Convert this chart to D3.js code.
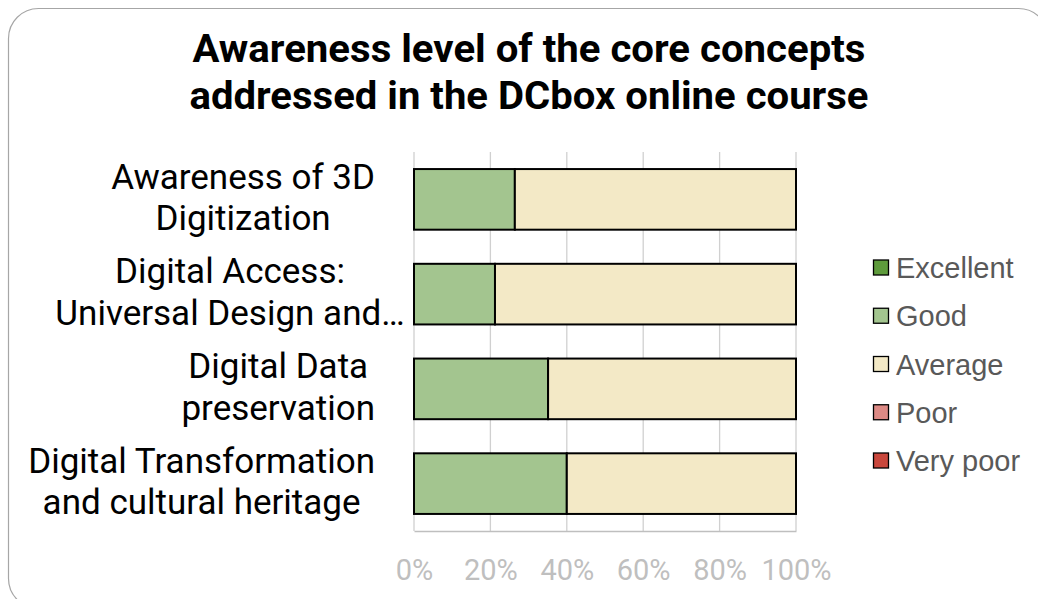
<!DOCTYPE html>
<html>
<head>
<meta charset="utf-8">
<script src="https://cdn.jsdelivr.net/npm/d3@7"></script>
<style>
  html, body { margin: 0; padding: 0; background: #fff; }
  svg { display: block; }
</style>
</head>
<body>
<svg id="chart" width="1038" height="599"></svg>
<script>
// Survey topics (each label split into its wrapped lines)
const categories = [
  ["Awareness of 3D", "Digitization"],
  ["Digital Access:", "Universal Design and…"],
  ["Digital Data", "preservation"],
  ["Digital Transformation", "and cultural heritage"]
];
// Rating levels and share of answers (%) for each topic
const levels = ["Excellent", "Good", "Average", "Poor", "Very poor"];
const levelColors = ["#5e9b3c", "#a3c58f", "#f3e9c6", "#dd8a85", "#c9473c"];
const excellent = [0, 0, 0, 0];
const good      = [26.4, 21.2, 35.1, 40.0];
const average   = [73.6, 78.8, 64.9, 60.0];
const poor      = [0, 0, 0, 0];
const veryPoor  = [0, 0, 0, 0];
const tickValues = [0, 20, 40, 60, 80, 100];

const svg = d3.select("#chart");
const font = "Roboto, 'Liberation Sans', sans-serif";
const legendFont = "'Liberation Sans', Arial, sans-serif";

// Chart frame
svg.append("rect")
  .attr("x", 8.5).attr("y", 8.5)
  .attr("width", 1040).attr("height", 600)
  .attr("rx", 30).attr("ry", 30)
  .attr("fill", "#fff").attr("stroke", "#a6a6a6").attr("stroke-width", 1.2);

// Title
const titleLines = [
  { t: "Awareness level of the core concepts", y: 62, w: 673 },
  { t: "addressed in the DCbox online course", y: 109, w: 679 }
];
svg.selectAll("text.title").data(titleLines).join("text")
  .attr("class", "title")
  .attr("x", 529).attr("y", d => d.y)
  .attr("text-anchor", "middle")
  .attr("font-family", font).attr("font-weight", "bold")
  .attr("font-size", 38.5)
  .attr("textLength", d => d.w).attr("lengthAdjust", "spacingAndGlyphs")
  .attr("fill", "#000")
  .text(d => d.t);

// Plot area
const plot = { left: 414, right: 796, top: 152, bottom: 531 };
const x = d3.scaleLinear().domain([0, 100]).range([plot.left, plot.right]);
const y = d3.scaleBand().domain(d3.range(categories.length))
  .range([plot.top, plot.bottom]).paddingInner(0.36).paddingOuter(0.18);

// Vertical gridlines
svg.append("g").selectAll("line").data(tickValues).join("line")
  .attr("x1", d => x(d)).attr("x2", d => x(d))
  .attr("y1", plot.top).attr("y2", plot.bottom)
  .attr("stroke", "#d0d0d0").attr("stroke-width", 1.3);

// X axis
const xAxis = svg.append("g")
  .attr("transform", `translate(0,${plot.bottom})`)
  .call(d3.axisBottom(x).tickValues(tickValues).tickFormat(d => d + "%").tickSize(0).tickPadding(28));
xAxis.select(".domain").attr("stroke", "#bfbfbf").attr("stroke-width", 1.3);
xAxis.selectAll("text")
  .attr("font-family", font).attr("font-size", 29).attr("fill", "#bfbfbf");

// Stacked bars
const seriesValues = [excellent, good, average, poor, veryPoor];
const rows = categories.map((c, i) => {
  const r = { i };
  levels.forEach((l, k) => r[l] = seriesValues[k][i]);
  return r;
});
const stacked = d3.stack().keys(["Good", "Average", "Excellent", "Poor", "Very poor"])(rows);
svg.append("g").selectAll("g").data(stacked).join("g")
  .attr("fill", s => levelColors[levels.indexOf(s.key)])
  .selectAll("rect").data(s => s.filter(d => d[1] - d[0] > 0)).join("rect")
  .attr("x", d => x(d[0]))
  .attr("width", d => x(d[1]) - x(d[0]))
  .attr("y", d => y(d.data.i))
  .attr("height", y.bandwidth())
  .attr("stroke", "#000").attr("stroke-width", 2);

// Category labels: lines centred within a right-aligned box;
// a truncated line only counts up to the box's width limit
const labelRight = 375;
const labelMaxWidth = 290;
categories.forEach((lines, i) => {
  const g = svg.append("g");
  const texts = g.selectAll("text").data(lines).join("text")
    .attr("font-family", font).attr("font-size", 35).attr("fill", "#000")
    .attr("text-anchor", "middle")
    .text(d => d);
  const widths = texts.nodes().map((n, k) => {
    const w = n.getComputedTextLength();
    return lines[k].endsWith("…") ? Math.min(w, labelMaxWidth) : w;
  });
  const cx = labelRight - d3.max(widths) / 2;
  const cy = y(i) + y.bandwidth() / 2;
  texts.attr("x", cx).attr("y", (d, k) => cy + 10 + (k - (lines.length - 1) / 2) * 41.5);
});

// Legend
const legend = svg.append("g");
const legendRow = d3.scaleLinear().domain([0, levels.length - 1]).range([268, 461]);
const items = legend.selectAll("g").data(levels).join("g")
  .attr("transform", (d, k) => `translate(873,${legendRow(k)})`);
items.append("rect")
  .attr("x", 0.5).attr("y", -8).attr("width", 15).attr("height", 15)
  .attr("fill", (d, k) => levelColors[k]).attr("stroke", "#000").attr("stroke-width", 1.3);
items.append("text")
  .attr("x", 23).attr("y", 10)
  .attr("font-family", legendFont).attr("font-size", 29).attr("fill", "#595959")
  .text(d => d);
</script>
</body>
</html>
